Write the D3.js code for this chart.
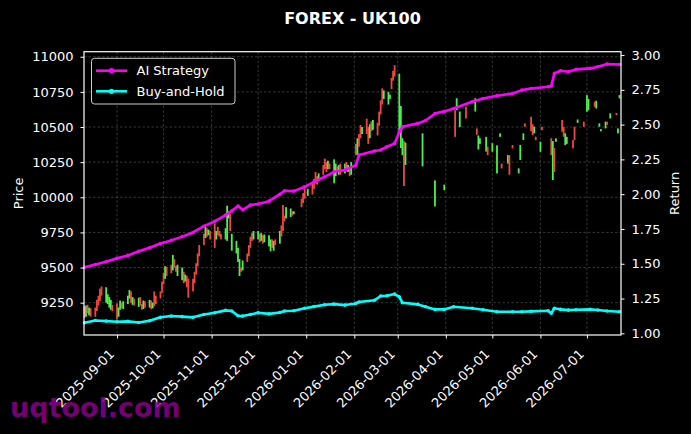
<!DOCTYPE html>
<html>
<head>
<meta charset="utf-8">
<script src="https://cdn.jsdelivr.net/npm/d3@7"></script>
<style>
html, body { margin: 0; padding: 0; background: #000; }
svg { display: block; font-family: "DejaVu Sans", sans-serif; }
</style>
</head>
<body>
<div id="chart"></div>
<script>
var w = 691,
	h = 434;

// tick labels
var priceTicks = [9250, 9500, 9750, 10000, 10250, 10500, 10750, 11000];
var returnTicks = [1.00, 1.25, 1.50, 1.75, 2.00, 2.25, 2.50, 2.75, 3.00];
var monthTicks = ["2025-09-01", "2025-10-01", "2025-11-01", "2025-12-01", "2026-01-01", "2026-02-01",
	"2026-03-01", "2026-04-01", "2026-05-01", "2026-06-01", "2026-07-01"];

// daily candles: [date, open, close]
var candles = [
	["2025-08-11", 9225, 9140], ["2025-08-12", 9150, 9230], ["2025-08-13", 9235, 9175], ["2025-08-14", 9160, 9215], ["2025-08-15", 9210, 9150],
	["2025-08-18", 9215, 9150], ["2025-08-19", 9270, 9190], ["2025-08-20", 9300, 9230], ["2025-08-21", 9350, 9260], ["2025-08-22", 9365, 9300],
	["2025-08-25", 9250, 9360], ["2025-08-26", 9240, 9310], ["2025-08-27", 9215, 9290], ["2025-08-28", 9200, 9270], ["2025-08-29", 9235, 9190],
	["2025-09-01", 9245, 9130], ["2025-09-02", 9150, 9215], ["2025-09-03", 9200, 9265], ["2025-09-04", 9250, 9210], ["2025-09-05", 9205, 9260],
	["2025-09-08", 9240, 9300], ["2025-09-09", 9280, 9340], ["2025-09-10", 9330, 9250], ["2025-09-11", 9235, 9290], ["2025-09-12", 9280, 9230],
	["2025-09-15", 9220, 9285], ["2025-09-16", 9290, 9230], ["2025-09-17", 9240, 9200], ["2025-09-18", 9205, 9265], ["2025-09-19", 9260, 9215],
	["2025-09-22", 9215, 9270], ["2025-09-23", 9265, 9205], ["2025-09-24", 9210, 9250], ["2025-09-25", 9330, 9225], ["2025-09-26", 9300, 9240],
	["2025-09-29", 9330, 9280], ["2025-09-30", 9400, 9320], ["2025-10-01", 9460, 9380], ["2025-10-02", 9420, 9510], ["2025-10-03", 9505, 9440],
	["2025-10-06", 9520, 9460], ["2025-10-07", 9480, 9590], ["2025-10-08", 9560, 9500], ["2025-10-09", 9510, 9470], ["2025-10-10", 9440, 9520],
	["2025-10-13", 9410, 9500], ["2025-10-14", 9470, 9390], ["2025-10-15", 9400, 9450], ["2025-10-16", 9440, 9360], ["2025-10-17", 9420, 9285],
	["2025-10-20", 9420, 9330], ["2025-10-21", 9470, 9390], ["2025-10-22", 9530, 9450], ["2025-10-23", 9600, 9510], ["2025-10-24", 9660, 9580],
	["2025-10-27", 9740, 9660], ["2025-10-28", 9710, 9790], ["2025-10-29", 9780, 9720], ["2025-10-30", 9730, 9770], ["2025-10-31", 9760, 9700],
	["2025-11-03", 9815, 9640], ["2025-11-04", 9700, 9760], ["2025-11-05", 9790, 9730], ["2025-11-06", 9760, 9720], ["2025-11-07", 9740, 9700],
	["2025-11-10", 9700, 9780], ["2025-11-11", 9690, 9940], ["2025-11-12", 9850, 9900], ["2025-11-13", 9880, 9760], ["2025-11-14", 9620, 9740],
	["2025-11-17", 9600, 9690], ["2025-11-18", 9540, 9640], ["2025-11-19", 9440, 9560], ["2025-11-20", 9500, 9470], ["2025-11-21", 9480, 9550],
	["2025-11-24", 9600, 9540], ["2025-11-25", 9660, 9580], ["2025-11-26", 9720, 9640], ["2025-11-27", 9745, 9690], ["2025-11-28", 9700, 9760],
	["2025-12-01", 9700, 9760], ["2025-12-02", 9740, 9680], ["2025-12-03", 9690, 9745], ["2025-12-04", 9730, 9670], ["2025-12-05", 9680, 9735],
	["2025-12-08", 9650, 9730], ["2025-12-09", 9615, 9700], ["2025-12-10", 9700, 9640], ["2025-12-11", 9620, 9690], ["2025-12-12", 9700, 9660],
	["2025-12-15", 9670, 9760], ["2025-12-16", 9800, 9720], ["2025-12-17", 9945, 9760], ["2025-12-18", 9870, 9830], ["2025-12-19", 9850, 9930],
	["2025-12-22", 9860, 9920], ["2025-12-23", 9900, 9870], ["2025-12-24", 9880, 9900],
	["2025-12-29", 9990, 9930], ["2025-12-30", 10030, 9960], ["2025-12-31", 10065, 9990], ["2026-01-02", 10010, 10060],
	["2026-01-05", 10100, 10020], ["2026-01-06", 10130, 10060], ["2026-01-07", 10180, 10100], ["2026-01-08", 10150, 10090], ["2026-01-09", 10120, 10170],
	["2026-01-12", 10230, 10160], ["2026-01-13", 10275, 10200], ["2026-01-14", 10250, 10180], ["2026-01-15", 10200, 10260], ["2026-01-16", 10240, 10200],
	["2026-01-19", 10100, 10270], ["2026-01-20", 10150, 10240], ["2026-01-21", 10220, 10180], ["2026-01-22", 10160, 10230], ["2026-01-23", 10240, 10160],
	["2026-01-26", 10170, 10240], ["2026-01-27", 10250, 10190], ["2026-01-28", 10180, 10230], ["2026-01-29", 10210, 10150], ["2026-01-30", 10160, 10250],
	["2026-02-02", 10380, 10300], ["2026-02-03", 10300, 10420], ["2026-02-04", 10450, 10360], ["2026-02-05", 10515, 10420], ["2026-02-06", 10450, 10500],
	["2026-02-09", 10560, 10450], ["2026-02-10", 10500, 10380], ["2026-02-11", 10420, 10520], ["2026-02-12", 10540, 10470], ["2026-02-13", 10480, 10550],
	["2026-02-16", 10530, 10440], ["2026-02-17", 10610, 10510], ["2026-02-18", 10690, 10590], ["2026-02-19", 10775, 10660], ["2026-02-20", 10700, 10760],
	["2026-02-23", 10660, 10750], ["2026-02-24", 10700, 10730], ["2026-02-25", 10850, 10770], ["2026-02-26", 10900, 10830], ["2026-02-27", 10940, 10860],
	["2026-03-02", 10470, 10880], ["2026-03-03", 10350, 10650], ["2026-03-04", 10300, 10420], ["2026-03-05", 10400, 10080], ["2026-03-06", 10230, 10390],
	["2026-03-17", 10220, 10455], ["2026-03-25", 9935, 10120], ["2026-03-31", 10050, 10090],
	["2026-04-07", 10620, 10430], ["2026-04-08", 10620, 10705], ["2026-04-10", 10500, 10610], ["2026-04-14", 10645, 10560],
	["2026-04-20", 10610, 10705], ["2026-04-21", 10490, 10445], ["2026-04-22", 10340, 10440], ["2026-04-23", 10380, 10420],
	["2026-04-27", 10325, 10430], ["2026-04-28", 10360, 10300], ["2026-05-01", 10325, 10385],
	["2026-05-04", 10170, 10370], ["2026-05-06", 10430, 10455], ["2026-05-07", 10240, 10205],
	["2026-05-11", 10240, 10300], ["2026-05-12", 10300, 10160], ["2026-05-14", 10372, 10348],
	["2026-05-18", 10170, 10206], ["2026-05-19", 10265, 10372], ["2026-05-21", 10407, 10455], ["2026-05-22", 10526, 10502],
	["2026-05-26", 10573, 10470], ["2026-05-27", 10520, 10443], ["2026-05-28", 10455, 10502], ["2026-05-29", 10431, 10407],
	["2026-06-01", 10324, 10395], ["2026-06-02", 10502, 10478],
	["2026-06-08", 10420, 10300], ["2026-06-09", 10123, 10400], ["2026-06-10", 10350, 10180], ["2026-06-11", 10395, 10419],
	["2026-06-15", 10550, 10467], ["2026-06-16", 10502, 10431], ["2026-06-17", 10372, 10455], ["2026-06-18", 10380, 10430],
	["2026-06-22", 10407, 10348], ["2026-06-23", 10502, 10407], ["2026-06-25", 10530, 10554],
	["2026-06-29", 10538, 10502], ["2026-07-01", 10609, 10727], ["2026-07-02", 10620, 10700],
	["2026-07-06", 10680, 10644], ["2026-07-07", 10632, 10687], ["2026-07-09", 10502, 10526], ["2026-07-10", 10470, 10485],
	["2026-07-13", 10490, 10538], ["2026-07-14", 10538, 10515], ["2026-07-16", 10561, 10597],
	["2026-07-20", 10600, 10585], ["2026-07-21", 10455, 10490], ["2026-07-22", 10704, 10727]
];

// cumulative return curves
var retDates = ["2025-08-11", "2025-08-18", "2025-08-25", "2025-09-01", "2025-09-08", "2025-09-15", "2025-09-22", "2025-09-29",
	"2025-10-06", "2025-10-13", "2025-10-20", "2025-10-27", "2025-11-03", "2025-11-10", "2025-11-14", "2025-11-18",
	"2025-11-21", "2025-11-26", "2025-12-01", "2025-12-08", "2025-12-15", "2025-12-18", "2025-12-24", "2025-12-31",
	"2026-01-06", "2026-01-13", "2026-01-19", "2026-01-26", "2026-02-02", "2026-02-04", "2026-02-14", "2026-02-18",
	"2026-02-22", "2026-02-27", "2026-03-02", "2026-03-04", "2026-03-14", "2026-03-19", "2026-03-25", "2026-03-31",
	"2026-04-06", "2026-04-18", "2026-04-25", "2026-05-04", "2026-05-14", "2026-05-20", "2026-05-26", "2026-06-06",
	"2026-06-08", "2026-06-10", "2026-06-14", "2026-06-19", "2026-06-24", "2026-07-03", "2026-07-08", "2026-07-14", "2026-07-22"];
var aiReturn = [1.474, 1.495, 1.515, 1.539, 1.560, 1.590, 1.615, 1.645,
	1.668, 1.695, 1.725, 1.770, 1.805, 1.850, 1.880, 1.915,
	1.888, 1.922, 1.930, 1.950, 2.000, 2.025, 2.022, 2.053,
	2.089, 2.125, 2.161, 2.173, 2.209, 2.281, 2.310, 2.318,
	2.341, 2.365, 2.448, 2.484, 2.509, 2.530, 2.580, 2.595,
	2.616, 2.664, 2.688, 2.707, 2.724, 2.748, 2.760, 2.772,
	2.778, 2.868, 2.887, 2.880, 2.897, 2.904, 2.916, 2.935, 2.932];
var bhReturn = [1.076, 1.092, 1.088, 1.083, 1.086, 1.078, 1.090, 1.115,
	1.124, 1.120, 1.115, 1.135, 1.148, 1.165, 1.160, 1.126,
	1.124, 1.135, 1.148, 1.140, 1.150, 1.160, 1.162, 1.180,
	1.192, 1.205, 1.210, 1.203, 1.215, 1.225, 1.238, 1.268,
	1.270, 1.282, 1.262, 1.220, 1.208, 1.191, 1.172, 1.172,
	1.191, 1.180, 1.170, 1.155, 1.155, 1.155, 1.158, 1.162,
	1.144, 1.180, 1.172, 1.167, 1.170, 1.172, 1.168, 1.160, 1.155];

var LegendOptions = ["AI Strategy", "Buy-and-Hold"];
var lineColors = ["#ff00ff", "#00ffff"];

var parse = d3.timeParse("%Y-%m-%d");
// plot box (window.top is reserved, so prefixed names)
var pL = 84, pR = 621, pT = 51.7, pB = 335;

var x = d3.scaleTime()
	.domain([new Date(2025, 7, 10, 17), new Date(2026, 6, 22, 23)])
	.range([pL, pR]);
var yPrice = d3.scaleLinear().domain([9020, 11036]).range([pB, pT]);
var yRet = d3.scaleLinear().domain([0.988, 3.024]).range([pB, pT]);

var svg = d3.select("#chart").append("svg")
	.attr("width", w)
	.attr("height", h)
	.style("background", "#000");

//////////// grid ////////////
var grid = svg.append("g").attr("stroke", "#5a5a5a").attr("stroke-width", 0.6).attr("stroke-dasharray", "2.5,2");
grid.selectAll(".hg").data(priceTicks).enter().append("line")
	.attr("x1", pL).attr("x2", pR)
	.attr("y1", function(d){ return yPrice(d); })
	.attr("y2", function(d){ return yPrice(d); });
grid.selectAll(".vg").data(monthTicks).enter().append("line")
	.attr("y1", pT).attr("y2", pB)
	.attr("x1", function(d){ return x(parse(d)); })
	.attr("x2", function(d){ return x(parse(d)); });

//////////// candles ////////////
svg.append("g").selectAll("rect")
	.data(candles)
	.enter()
	.append("rect")
	.attr("x", function(d){ return x(parse(d[0])) - 0.9; })
	.attr("width", 1.8)
	.attr("y", function(d){ return yPrice(Math.max(d[1], d[2])); })
	.attr("height", function(d){ return Math.max(1, Math.abs(yPrice(d[1]) - yPrice(d[2]))); })
	.attr("fill", function(d){ return d[2] >= d[1] ? "#4df04d" : "#f0483c"; });

//////////// return lines ////////////
var series = [aiReturn, bhReturn];
var line = d3.line()
	.x(function(d, i){ return x(parse(retDates[i])); })
	.y(function(d){ return yRet(d); });

series.forEach(function(s, k){
	svg.append("path")
		.attr("d", line(s))
		.attr("fill", "none")
		.attr("stroke", lineColors[k])
		.attr("stroke-width", 2.6)
		.attr("stroke-linejoin", "round");
	svg.append("g").selectAll("circle")
		.data(s)
		.enter()
		.append("circle")
		.attr("cx", function(d, i){ return x(parse(retDates[i])); })
		.attr("cy", function(d){ return yRet(d); })
		.attr("r", 1.8)
		.attr("fill", lineColors[k]);
});

//////////// axes ////////////
function styleAxis(g){
	g.attr("font-size", 13).attr("font-family", "DejaVu Sans, sans-serif");
	g.selectAll("line").attr("stroke", "#fff");
	g.selectAll("text").attr("fill", "#fff");
	g.select(".domain").remove();
}

svg.append("g")
	.attr("transform", "translate(" + pL + ",0)")
	.call(d3.axisLeft(yPrice).tickValues(priceTicks).tickSize(3.5).tickPadding(7).tickFormat(d3.format("d")))
	.call(styleAxis);

svg.append("g")
	.attr("transform", "translate(" + pR + ",0)")
	.call(d3.axisRight(yRet).tickValues(returnTicks).tickSize(3.5).tickPadding(7).tickFormat(d3.format(".2f")))
	.call(styleAxis);

var xa = svg.append("g")
	.attr("transform", "translate(0," + pB + ")")
	.call(d3.axisBottom(x).tickValues(monthTicks.map(parse)).tickSize(3.5).tickFormat(d3.timeFormat("%Y-%m-%d")))
	.call(styleAxis);
xa.selectAll("text")
	.attr("x", 0).attr("y", 0).attr("dy", 0)
	.attr("text-anchor", "end")
	.attr("transform", "translate(-2.5,20) rotate(-45)");

// frame
svg.append("rect")
	.attr("x", pL).attr("y", pT)
	.attr("width", pR - pL).attr("height", pB - pT)
	.attr("fill", "none").attr("stroke", "#fff").attr("stroke-width", 1.2);

//////////// labels ////////////
svg.append("text")
	.attr("x", (pL + pR) / 2).attr("y", 24)
	.attr("text-anchor", "middle")
	.attr("font-size", 16).attr("font-weight", "bold")
	.attr("fill", "#fff")
	.text("FOREX - UK100");

svg.append("text")
	.attr("transform", "translate(23," + ((pT + pB) / 2) + ") rotate(-90)")
	.attr("text-anchor", "middle")
	.attr("font-size", 13).attr("fill", "#fff")
	.text("Price");

svg.append("text")
	.attr("transform", "translate(679," + ((pT + pB) / 2) + ") rotate(-90)")
	.attr("text-anchor", "middle")
	.attr("font-size", 13).attr("fill", "#fff")
	.text("Return");

//////////// legend ////////////
var legend = svg.append("g").attr("class", "legend");
legend.append("rect")
	.attr("x", 91.5).attr("y", 58.3)
	.attr("width", 143.5).attr("height", 45.7)
	.attr("rx", 3)
	.attr("fill", "#000").attr("fill-opacity", 0.8)
	.attr("stroke", "#cccccc").attr("stroke-width", 1);
legend.selectAll("line")
	.data(LegendOptions)
	.enter()
	.append("line")
	.attr("x1", 96).attr("x2", 127)
	.attr("y1", function(d, i){ return 70.7 + i * 20.6; })
	.attr("y2", function(d, i){ return 70.7 + i * 20.6; })
	.attr("stroke", function(d, i){ return lineColors[i]; })
	.attr("stroke-width", 2.6);
legend.selectAll("circle")
	.data(LegendOptions)
	.enter()
	.append("circle")
	.attr("cx", 111.5)
	.attr("cy", function(d, i){ return 70.7 + i * 20.6; })
	.attr("r", 2.6)
	.attr("fill", function(d, i){ return lineColors[i]; });
legend.selectAll("text")
	.data(LegendOptions)
	.enter()
	.append("text")
	.attr("x", 136.5)
	.attr("y", function(d, i){ return 75.4 + i * 20.6; })
	.attr("font-size", 13)
	.attr("fill", "#fff")
	.text(function(d){ return d; });

// watermark
svg.append("text")
	.attr("x", 10).attr("y", 417)
	.attr("font-size", 27).attr("font-weight", "bold")
	.attr("fill", "#8b008b").attr("fill-opacity", 0.85)
	.text("uqtool.com");
</script>
</body>
</html>
